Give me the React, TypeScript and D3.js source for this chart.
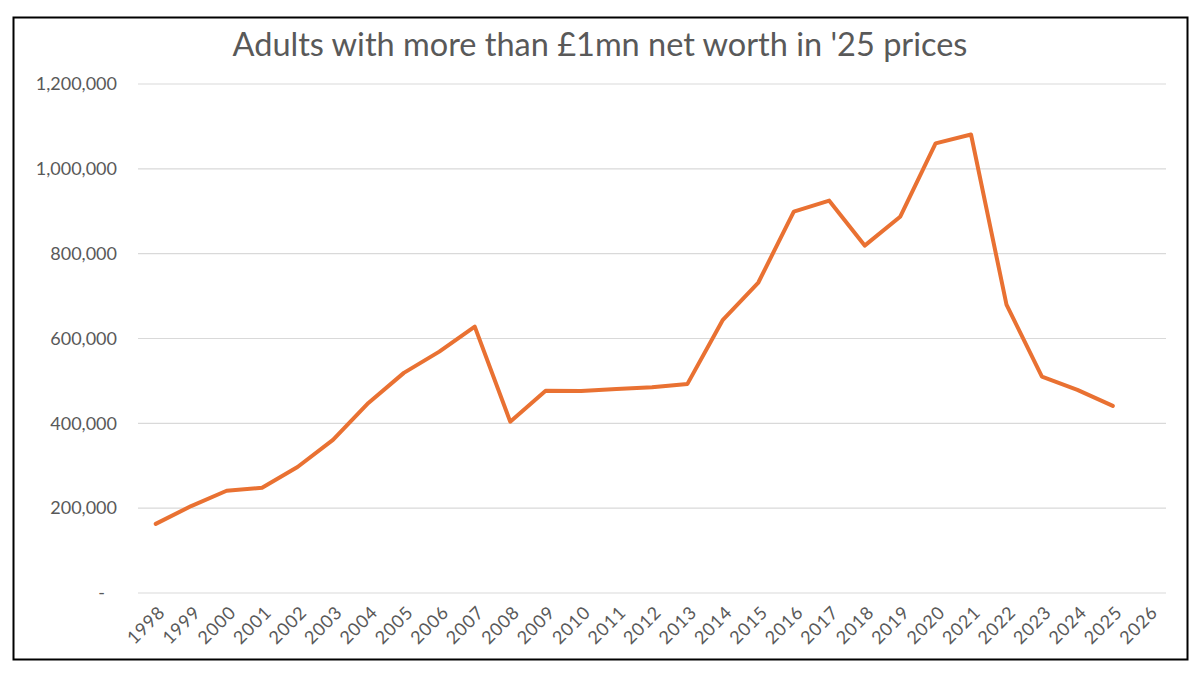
import { useEffect, useRef } from "react";
import * as d3 from "d3";

// Categories (x axis) and values
const years = [
  "1998", "1999", "2000", "2001", "2002", "2003", "2004", "2005", "2006", "2007",
  "2008", "2009", "2010", "2011", "2012", "2013", "2014", "2015", "2016", "2017",
  "2018", "2019", "2020", "2021", "2022", "2023", "2024", "2025", "2026",
];
const dataYears = years.slice(0, 28);
const adults = [
  163000, 205000, 241000, 248000, 297000, 361000, 448000, 519000, 569000, 628000,
  404000, 477000, 476000, 481000, 485000, 493000, 644000, 732000, 899000, 925000,
  819000, 887000, 1060000, 1081000, 680000, 510000, 479000, 441000,
];
const yTicks = [0, 200000, 400000, 600000, 800000, 1000000, 1200000];

const App = () => {
  const svgRef = useRef<SVGSVGElement>(null);

  useEffect(() => {
    const svg = d3.select(svgRef.current);
    svg.selectAll("*").remove();

    const width = 1200;
    const height = 675;
    const font = "Lato, 'Open Sans', sans-serif";
    const textColor = "#595959";

    svg.attr("width", width).attr("height", height);

    svg
      .append("rect")
      .attr("width", width)
      .attr("height", height)
      .attr("fill", "#fff");

    // Frame
    svg
      .append("rect")
      .attr("x", 13.5)
      .attr("y", 17.5)
      .attr("width", 1174)
      .attr("height", 642)
      .attr("fill", "none")
      .attr("stroke", "#000")
      .attr("stroke-width", 2);

    const x = d3.scaleBand().domain(years).range([138, 1166]);
    const y = d3.scaleLinear().domain([0, 1200000]).range([593, 84]);

    // Gridlines
    svg
      .append("g")
      .selectAll("line")
      .data(yTicks)
      .join("line")
      .attr("x1", 138)
      .attr("x2", 1166)
      .attr("y1", (d) => y(d))
      .attr("y2", (d) => y(d))
      .attr("stroke", "#d9d9d9")
      .attr("stroke-width", 1.2);

    // Y labels
    svg
      .append("g")
      .selectAll("text")
      .data(yTicks)
      .join("text")
      .attr("x", (d) => (d === 0 ? 105 : 117))
      .attr("y", (d) => y(d))
      .attr("dy", "0.35em")
      .attr("text-anchor", "end")
      .attr("font-family", font)
      .attr("font-size", 18)
      .attr("fill", textColor)
      .text((d) => (d === 0 ? "-" : d3.format(",")(d)));

    // X labels, rotated
    svg
      .append("g")
      .selectAll("text")
      .data(years)
      .join("text")
      .attr("transform", (d) => {
        const cx = (x(d) as number) + x.bandwidth() / 2;
        return `translate(${cx + 1},${604}) rotate(-45)`;
      })
      .attr("dy", "0.75em")
      .attr("text-anchor", "end")
      .attr("font-family", font)
      .attr("font-size", 18)
      .attr("letter-spacing", 0.8)
      .attr("fill", textColor)
      .text((d) => d);

    // Line
    const line = d3
      .line<number>()
      .x((_, i) => (x(dataYears[i]) as number) + x.bandwidth() / 2)
      .y((d) => y(d));

    svg
      .append("path")
      .datum(adults)
      .attr("fill", "none")
      .attr("stroke", "#E97132")
      .attr("stroke-width", 4)
      .attr("stroke-linejoin", "round")
      .attr("stroke-linecap", "round")
      .attr("d", line);

    // Title
    svg
      .append("text")
      .attr("x", 600)
      .attr("y", 56)
      .attr("text-anchor", "middle")
      .attr("font-family", font)
      .attr("font-size", 32.5)
      .attr("fill", textColor)
      .text("Adults with more than £1mn net worth in '25 prices");
  }, []);

  return (
    <svg
      ref={svgRef}
      style={{ position: "absolute", left: 0, top: 0, display: "block" }}
    ></svg>
  );
};

export default App;
